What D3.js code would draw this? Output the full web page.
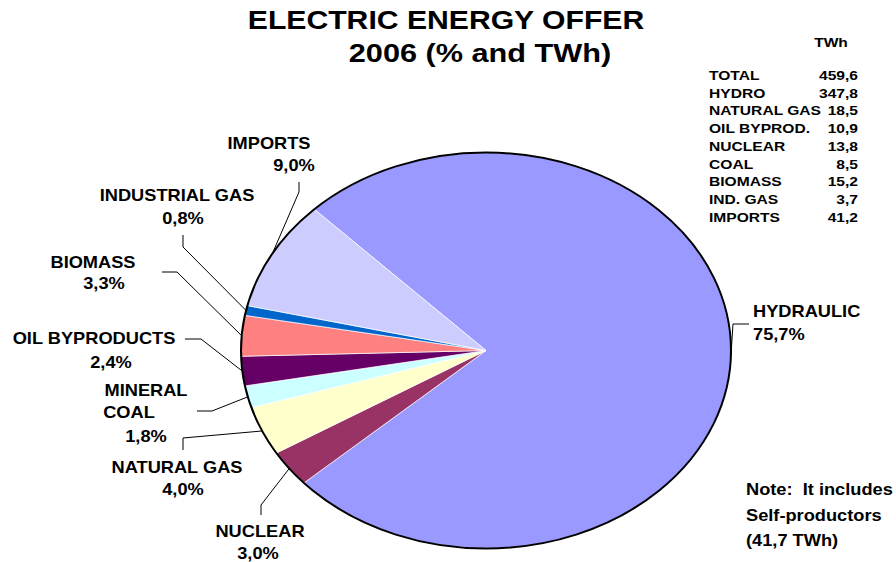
<html>
<head>
<script src="https://d3js.org/d3.v7.min.js"></script>
<style>
body { margin:0; background:#fff; }
text { font-family: "Liberation Sans", Arial, sans-serif; font-weight: bold; fill: #000; white-space: pre; }
</style>
</head>
<body>
<script>
// data
var categories = ["HYDRAULIC", "NUCLEAR", "NATURAL GAS", "MINERAL COAL", "OIL BYPRODUCTS", "BIOMASS", "INDUSTRIAL GAS", "IMPORTS"];
var shares = [75.7, 3.0, 4.0, 1.8, 2.4, 3.3, 0.8, 9.0];
var tableNames = ["TOTAL", "HYDRO", "NATURAL GAS", "OIL BYPROD.", "NUCLEAR", "COAL", "BIOMASS", "IND. GAS", "IMPORTS"];
var tableValues = [459.6, 347.8, 18.5, 10.9, 13.8, 8.5, 15.2, 3.7, 41.2];
var noteLines = ["Note:  It includes", "Self-productors", "(41,7 TWh)"];

var colors = ["#9999ff", "#993366", "#ffffcc", "#ccffff", "#660066", "#ff8080", "#0066cc", "#ccccff"];

// label layout: text lines, anchor positions, leader elbow
var labelLayout = [
  {lines:["HYDRAULIC"], x:[753, 753], y:[317, 340], anchor:"start", leader:[[749,324],[733,324]]},
  {lines:["NUCLEAR"], x:[260, 258], y:[537, 559], anchor:"middle", leader:[[261,515],[261,505]]},
  {lines:["NATURAL GAS"], x:[177, 183], y:[473, 495], anchor:"middle", leader:[[183,450],[183,438]]},
  {lines:["MINERAL", "COAL"], x:[146, 129, 146], y:[396, 418, 442], anchor:"middle", leader:[[197,411],[212,411]]},
  {lines:["OIL BYPRODUCTS"], x:[94, 111], y:[344, 368], anchor:"middle", leader:[[185,339],[201,339]]},
  {lines:["BIOMASS"], x:[93, 104], y:[268, 289], anchor:"middle", leader:[[162,272],[177,272]]},
  {lines:["INDUSTRIAL GAS"], x:[177, 183], y:[201, 224], anchor:"middle", leader:[[183,235],[183,247]]},
  {lines:["IMPORTS"], x:[269, 294], y:[149, 171], anchor:"middle", leader:[[299,182],[299,192]]}
];

var width = 896, height = 562;
var cx = 486, cy = 350.5, rx = 245, ry = 198;
var comma = function(v, d) { return d3.format("." + d + "f")(v).replace(".", ","); };

var svg = d3.select("body").append("svg")
  .attr("width", width)
  .attr("height", height);

// the original picture is stretched sideways, so text is too
function stretchedText(g, x, y, str, size, anchor, sx) {
  return g.append("text")
    .attr("transform", "translate(" + x + "," + y + ") scale(" + sx + ",1)")
    .attr("text-anchor", anchor)
    .style("font-size", size + "px")
    .text(str);
}

// title
stretchedText(svg, 446, 29, "ELECTRIC ENERGY OFFER", 26, "middle", 1.16);
stretchedText(svg, 480, 62, "2006 (% and TWh)", 26, "middle", 1.18);

// pie
var start = -44.5 * Math.PI / 180;
var pie = d3.pie().sort(null).value(function(d) { return d; })
  .startAngle(start).endAngle(start + 2 * Math.PI);
var arcs = pie(shares);
var arc = d3.arc().innerRadius(0).outerRadius(ry);

var pieG = svg.append("g")
  .attr("transform", "translate(" + cx + "," + cy + ") scale(" + (rx / ry) + ",1)");
pieG.selectAll("path")
  .data(arcs)
  .enter().append("path")
  .attr("d", arc)
  .attr("fill", function(d, i) { return colors[i]; })
  .attr("stroke", "#fff")
  .attr("stroke-width", 0.7)
  .attr("vector-effect", "non-scaling-stroke");

svg.append("ellipse")
  .attr("cx", cx).attr("cy", cy)
  .attr("rx", rx).attr("ry", ry)
  .attr("fill", "none")
  .attr("stroke", "#000")
  .attr("stroke-width", 2);

// leaders and labels
var labels = svg.append("g");
arcs.forEach(function(d, i) {
  var L = labelLayout[i];
  var a = (d.startAngle + d.endAngle) / 2;
  var edge = [cx + rx * Math.sin(a), cy - ry * Math.cos(a)];
  var pts = L.leader.concat([edge]);
  labels.append("path")
    .attr("d", d3.line()(pts))
    .attr("fill", "none")
    .attr("stroke", "#000")
    .attr("stroke-width", 1);
  var lines = L.lines.concat([comma(shares[i], 1) + "%"]);
  lines.forEach(function(t, j) {
    stretchedText(labels, L.x[j], L.y[j], t, 16, L.anchor, 1.14);
  });
});

// TWh table
var table = svg.append("g");
stretchedText(table, 831, 47, "TWh", 13, "middle", 1.2);
tableNames.forEach(function(n, i) {
  var y = 80 + i * 17.7;
  stretchedText(table, 709, y, n, 13, "start", 1.2);
  stretchedText(table, 858, y, comma(tableValues[i], 1), 13, "end", 1.2);
});

// note
noteLines.forEach(function(t, i) {
  stretchedText(svg, 746, [495, 521, 546][i], t, 16, "start", 1.14);
});
</script>
</body>
</html>
